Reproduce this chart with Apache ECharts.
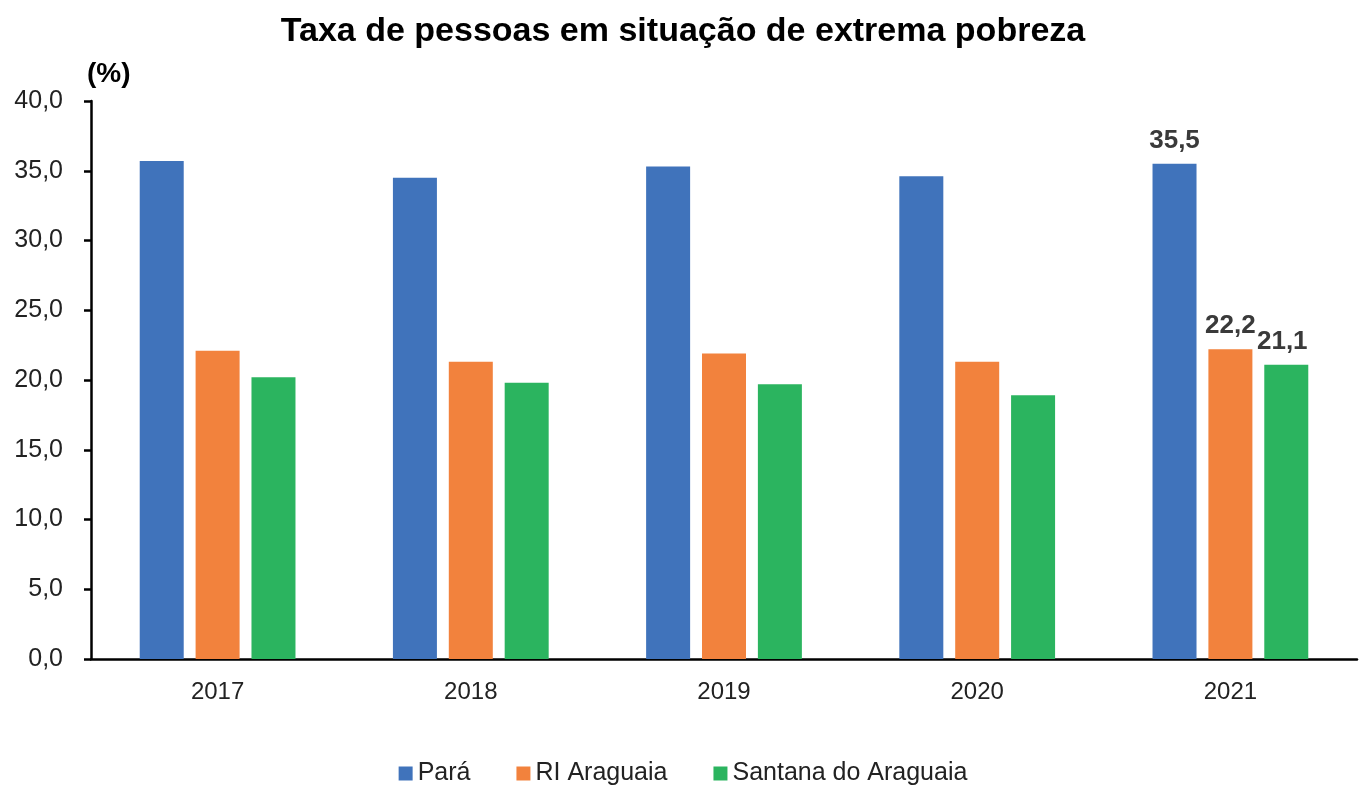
<!DOCTYPE html>
<html>
<head>
<meta charset="utf-8">
<script src="https://cdn.jsdelivr.net/npm/echarts@6/dist/echarts.min.js"></script>
<style>
  html, body { margin: 0; padding: 0; background: #fff; }
  #chart { width: 1366px; height: 793px; }
</style>
</head>
<body>
<div id="chart"></div>
<script>
// anos e taxas (%)
const years = ['2017', '2018', '2019', '2020', '2021'];
const para = [35.7, 34.5, 35.3, 34.6, 35.5];
const riAraguaia = [22.1, 21.3, 21.9, 21.3, 22.2];
const santana = [20.2, 19.8, 19.7, 18.9, 21.1];
const yTicks = [0, 5, 10, 15, 20, 25, 30, 35, 40];

const FONT = '"Liberation Sans Narrow", "Arial Narrow", "Liberation Sans", sans-serif';
const fmt = v => v.toFixed(1).replace('.', ',');

// só o último ano leva rótulo
function withLastLabel(values, offsetX) {
    return values.map((v, i) => i === values.length - 1
        ? { value: v, label: { show: true, offset: [offsetX || 0, 0] } }
        : v);
}

function makeSeries(name, values, color, offsetX) {
    return {
        name: name,
        type: 'bar',
        barWidth: 44,
        barGap: '27%',
        itemStyle: { color: color },
        label: {
            show: false,
            position: 'top',
            distance: 10,
            fontFamily: FONT,
            fontWeight: 'bold',
            fontSize: 26,
            color: '#3a3a3a',
            formatter: p => fmt(p.value)
        },
        data: withLastLabel(values, offsetX)
    };
}

const chart = echarts.init(document.getElementById('chart'));
chart.setOption({
    animation: false,
    textStyle: { fontFamily: FONT },
    title: {
        text: 'Taxa de pessoas em situação de extrema pobreza',
        left: 'center',
        top: 10,
        textStyle: { fontFamily: FONT, fontWeight: 'bold', fontSize: 34, color: '#000' }
    },
    legend: {
        bottom: 2,
        left: 'center',
        icon: 'rect',
        itemWidth: 14,
        itemHeight: 14,
        itemGap: 46,
        textStyle: { fontFamily: FONT, fontSize: 25, color: '#222' }
    },
    grid: { left: 91, right: 9, top: 101, bottom: 134 },
    xAxis: {
        type: 'category',
        data: years,
        axisLine: { lineStyle: { color: '#000', width: 2.5 } },
        axisTick: { show: false },
        axisLabel: { fontFamily: FONT, fontSize: 24, color: '#222', margin: 21 }
    },
    yAxis: {
        type: 'value',
        name: '(%)',
        nameLocation: 'end',
        nameGap: 13,
        nameTextStyle: { fontFamily: FONT, fontWeight: 'bold', fontSize: 28, color: '#000', align: 'left', padding: [0, 0, 0, -4] },
        min: yTicks[0],
        max: yTicks[yTicks.length - 1],
        interval: 5,
        splitLine: { show: false },
        axisLine: { show: true, lineStyle: { color: '#000', width: 2.5 } },
        axisTick: { show: true, length: 7, lineStyle: { color: '#000', width: 2.5 } },
        axisLabel: { fontFamily: FONT, fontSize: 25, color: '#222', margin: 28, formatter: v => fmt(v) }
    },
    series: [
        makeSeries('Pará', para, '#4073BB'),
        makeSeries('RI Araguaia', riAraguaia, '#F2823D'),
        makeSeries('Santana do Araguaia', santana, '#2BB45F', -4)
    ]
});
</script>
</body>
</html>
